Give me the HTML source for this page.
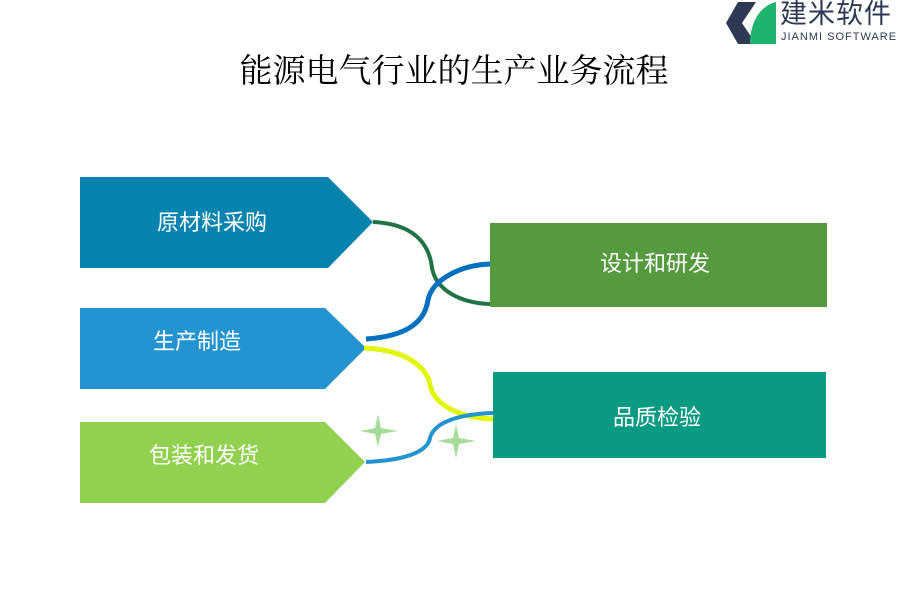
<!DOCTYPE html>
<html><head><meta charset="utf-8"><style>
body{margin:0;width:900px;height:600px;background:#fff;position:relative;overflow:hidden;font-family:"Liberation Sans","Noto Sans CJK SC",sans-serif}
.t{position:absolute;color:#fff;font-size:22px;line-height:26px;font-family:"Liberation Sans","Noto Sans CJK SC",sans-serif}
</style></head><body>
<svg width="900" height="600" style="position:absolute;left:0;top:0">
<polygon points="80,177 328,177 373,222 328,268 80,268" fill="#0783b0"/>
<polygon points="80,308 325,308 366,348 325,389 80,389" fill="#2394d0"/>
<polygon points="80,422 325,422 365,462 325,503 80,503" fill="#92d050"/>
<rect x="490" y="223" width="337" height="84" fill="#559a3e"/>
<rect x="493" y="372" width="333" height="86" fill="#099a84"/>
<path d="M373,222 C420,224 430,250 432,268 C436,290 460,303 490,304" stroke="#217346" stroke-width="4" fill="none"/>
<path d="M366,339 C410,336 425,320 428,300 C432,280 460,265 490,264" stroke="#0070c0" stroke-width="5" fill="none"/>
<path d="M364,348 C410,350 428,370 430,385 C434,405 460,418 493,419" stroke="#e2f50a" stroke-width="5" fill="none"/>
<path d="M366,462 C410,460 428,450 430,438 C434,422 460,414 493,413" stroke="#2394d0" stroke-width="4" fill="none"/>
<path d="M378,414 L381,428 L398,431 L381,434 L378,447 L375,434 L360,431 L375,428Z" fill="#a5dc9a"/>
<path d="M456,424 L459,438 L476,441 L459,444 L456,458 L453,444 L437,441 L453,438Z" fill="#a5dc9a"/>
<polygon points="738,2 756,2 742,23 756,44 738,44 726,23" fill="#2e3a55"/>
<path d="M750,44 C750,22 760,6 776,2 L776,44Z" fill="#1fb46e"/>
</svg>
<div style="position:absolute;left:780px;top:-2px;font-size:27px;line-height:32px;color:#2e3a55;letter-spacing:1px">建米软件</div>
<div style="position:absolute;left:781px;top:31px;font-size:11px;line-height:13px;color:#2e3a55;letter-spacing:1px">JIANMI SOFTWARE</div>
<div style="position:absolute;left:0;width:908px;top:50px;line-height:44px;text-align:center;font-size:33px;color:#000;font-family:'Liberation Serif','Noto Serif CJK SC',serif">能源电气行业的生产业务流程</div>
<div class="t" style="left:157px;top:210px">原材料采购</div>
<div class="t" style="left:153px;top:329px">生产制造</div>
<div class="t" style="left:149px;top:443px">包装和发货</div>
<div class="t" style="left:600px;top:251px">设计和研发</div>
<div class="t" style="left:613px;top:405px">品质检验</div>
</body></html>
